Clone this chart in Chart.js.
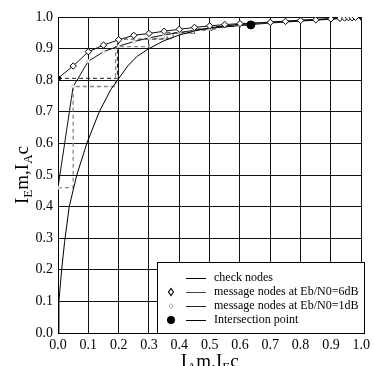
<!DOCTYPE html>
<html>
<head>
<meta charset="utf-8">
<script src="https://cdn.jsdelivr.net/npm/chart.js@4/dist/chart.umd.min.js"></script>
<style>
  html, body { margin: 0; padding: 0; background: #fff; }
  #wrap { width: 374px; height: 366px; }
</style>
</head>
<body>
<div id="wrap"><canvas id="exit"></canvas></div>
<script>

// check node curve
const checkX = [0, 0.003, 0.012, 0.022, 0.037, 0.062, 0.095, 0.136, 0.174, 0.2, 0.23, 0.26, 0.3, 0.35, 0.4, 0.45, 0.5, 0.6, 0.7, 0.8, 0.9, 1.0];
const checkY = [0, 0.1, 0.2, 0.29, 0.4, 0.5, 0.6, 0.7, 0.77, 0.805, 0.845, 0.875, 0.9, 0.925, 0.943, 0.956, 0.966, 0.977, 0.984, 0.99, 0.995, 1.0];

// message nodes, 6 dB
const msg6X = [0, 0.05, 0.1, 0.15, 0.2, 0.25, 0.3, 0.35, 0.4, 0.45, 0.5, 0.55, 0.6, 0.7, 0.75, 0.8, 0.85, 0.9, 0.93, 0.945, 0.958, 0.97, 0.981, 1.0];
const msg6Y = [0.806, 0.845, 0.89, 0.911, 0.928, 0.942, 0.948, 0.955, 0.961, 0.967, 0.972, 0.976, 0.979, 0.983, 0.986, 0.989, 0.991, 0.994, 0.996, 0.997, 0.998, 0.998, 0.999, 1.0];

// message nodes, 1 dB
const msg1X = [0, 0.05, 0.1, 0.15, 0.2, 0.25, 0.3, 0.35, 0.4, 0.45, 0.5, 0.6, 0.7, 0.8, 0.9, 1.0];
const msg1Y = [0.46, 0.78, 0.86, 0.89, 0.908, 0.922, 0.934, 0.943, 0.951, 0.958, 0.964, 0.973, 0.981, 0.987, 0.993, 1.0];

// decoding trajectories
const traj6X = [0, 0.196, 0.196, 0.36, 0.36, 0.45, 0.45, 0.52, 0.52, 0.58, 0.58, 0.636];
const traj6Y = [0.806, 0.806, 0.93, 0.93, 0.95, 0.95, 0.962, 0.962, 0.97, 0.97, 0.975, 0.975];
const traj1X = [0, 0.05, 0.05, 0.19, 0.19, 0.3, 0.3, 0.38, 0.38, 0.45, 0.45, 0.52];
const traj1Y = [0.46, 0.46, 0.78, 0.78, 0.906, 0.906, 0.932, 0.932, 0.948, 0.948, 0.958, 0.958];

const intersectX = [0.636];
const intersectY = [0.975];

const tickValues = [0, 0.1, 0.2, 0.3, 0.4, 0.5, 0.6, 0.7, 0.8, 0.9, 1.0];

const legendLabels = ['check nodes', 'message nodes at Eb/N0=6dB', 'message nodes at Eb/N0=1dB', 'Intersection point'];

const serif = "'Liberation Serif', 'Times New Roman', serif";

const toPoints = (xs, ys) => xs.map((x, i) => ({ x: x, y: ys[i] }));

// draws text with subscripts, centered on (0,0) of current transform
const drawSubText = (ctx, parts, big, small) => {
  let total = 0;
  parts.forEach(p => {
    ctx.font = (p.sub ? small : big) + 'px ' + serif;
    p.w = ctx.measureText(p.t).width;
    total += p.w;
  });
  let x = -total / 2;
  ctx.textBaseline = 'alphabetic';
  ctx.textAlign = 'left';
  parts.forEach(p => {
    ctx.font = (p.sub ? small : big) + 'px ' + serif;
    ctx.fillText(p.t, x, p.sub ? 4 : 0);
    x += p.w;
  });
};

const extras = {
  id: 'extras',
  afterDraw(chart) {
    const ctx = chart.ctx;
    const area = chart.chartArea;
    ctx.save();
    ctx.fillStyle = '#000';

    // axis titles
    ctx.save();
    ctx.translate((area.left + area.right) / 2, 367);
    drawSubText(ctx, [{ t: 'I' }, { t: 'A', sub: true }, { t: 'm,I' }, { t: 'E', sub: true }, { t: 'c' }], 19, 13);
    ctx.restore();

    ctx.save();
    ctx.translate(28, (area.top + area.bottom) / 2);
    ctx.rotate(-Math.PI / 2);
    drawSubText(ctx, [{ t: 'I' }, { t: 'E', sub: true }, { t: 'm,I' }, { t: 'A', sub: true }, { t: 'c' }], 19, 13);
    ctx.restore();

    // legend box
    const bx = 157, by = 262, bw = 207, bh = 71;
    ctx.fillStyle = '#fff';
    ctx.fillRect(bx, by, bw, bh);
    ctx.strokeStyle = '#000';
    ctx.lineWidth = 1;
    ctx.strokeRect(bx + 0.5, by + 0.5, bw, bh);

    const rows = [278, 292, 306, 320];
    const lineColors = ['#000', '#444', '#222', '#000'];
    rows.forEach((y, i) => {
      ctx.strokeStyle = lineColors[i];
      ctx.lineWidth = 1;
      ctx.beginPath();
      ctx.moveTo(186, y + 0.5);
      ctx.lineTo(206, y + 0.5);
      ctx.stroke();
      ctx.fillStyle = '#000';
      ctx.font = '12px ' + serif;
      ctx.textAlign = 'left';
      ctx.textBaseline = 'middle';
      ctx.fillText(legendLabels[i], 214, y);
    });
    const mx = 171;
    // 6 dB marker
    ctx.beginPath();
    ctx.moveTo(mx, rows[1] - 3.5);
    ctx.lineTo(mx + 2.5, rows[1]);
    ctx.lineTo(mx, rows[1] + 3.5);
    ctx.lineTo(mx - 2.5, rows[1]);
    ctx.closePath();
    ctx.fillStyle = '#fff';
    ctx.fill();
    ctx.strokeStyle = '#000';
    ctx.lineWidth = 1.2;
    ctx.stroke();
    // 1 dB marker
    ctx.beginPath();
    ctx.moveTo(mx, rows[2] - 2.5);
    ctx.lineTo(mx + 2, rows[2]);
    ctx.lineTo(mx, rows[2] + 2.5);
    ctx.lineTo(mx - 2, rows[2]);
    ctx.closePath();
    ctx.strokeStyle = '#aaa';
    ctx.lineWidth = 1;
    ctx.stroke();
    // intersection marker
    ctx.beginPath();
    ctx.arc(mx, rows[3], 4, 0, Math.PI * 2);
    ctx.fillStyle = '#000';
    ctx.fill();

    ctx.restore();
  }
};

const msg6Fill = msg6X.map((x, i) => (i === 0 || i === msg6X.length - 1) ? '#000' : '#fff');

new Chart(document.getElementById('exit'), {
  type: 'scatter',
  data: {
    datasets: [
      {
        label: 'Intersection point',
        data: toPoints(intersectX, intersectY),
        pointStyle: 'circle',
        pointRadius: 4,
        backgroundColor: '#000',
        borderColor: '#000',
        order: 0,
      },
      {
        label: 'message nodes at Eb/N0=6dB',
        data: toPoints(msg6X, msg6Y),
        showLine: true,
        borderColor: '#111',
        borderWidth: 1,
        pointStyle: 'rectRot',
        pointRadius: 3.2,
        pointBorderWidth: 1,
        pointBackgroundColor: msg6Fill,
        pointBorderColor: '#000',
        order: 1,
      },
      {
        label: 'check nodes',
        data: toPoints(checkX, checkY),
        showLine: true,
        borderColor: '#000',
        borderWidth: 1,
        pointRadius: 0,
        order: 2,
      },
      {
        label: 'message nodes at Eb/N0=1dB',
        data: toPoints(msg1X, msg1Y),
        showLine: true,
        borderColor: '#111',
        borderWidth: 1,
        pointStyle: 'rectRot',
        pointRadius: 1.8,
        pointBackgroundColor: '#fff',
        pointBorderColor: '#bbb',
        order: 3,
      },
      {
        label: 'traj6',
        data: toPoints(traj6X, traj6Y),
        showLine: true,
        borderColor: '#222',
        borderWidth: 1,
        borderDash: [4, 3],
        pointRadius: 0,
        order: 4,
      },
      {
        label: 'traj1',
        data: toPoints(traj1X, traj1Y),
        showLine: true,
        borderColor: '#888',
        borderWidth: 1.3,
        borderDash: [4, 3],
        pointRadius: 0,
        order: 5,
      },
    ],
  },
  options: {
    responsive: true,
    maintainAspectRatio: false,
    animation: false,
    layout: { padding: { top: 17, right: 9, left: 0, bottom: 0 } },
    plugins: {
      legend: { display: false },
      tooltip: { enabled: false },
    },
    scales: {
      x: {
        type: 'linear',
        min: 0,
        max: 1,
        afterBuildTicks: (scale) => { scale.ticks = tickValues.map(v => ({ value: v })); },
        afterFit: (scale) => { scale.height = 33; },
        ticks: {
          callback: (v) => v.toFixed(1),
          color: '#000',
          padding: 4,
          maxRotation: 0,
          font: { family: serif, size: 14 },
        },
        grid: { color: '#111', lineWidth: 1, drawTicks: false },
        border: { color: '#000', width: 1 },
      },
      y: {
        type: 'linear',
        min: 0,
        max: 1,
        afterBuildTicks: (scale) => { scale.ticks = tickValues.map(v => ({ value: v })); },
        afterFit: (scale) => { scale.width = 58; },
        ticks: {
          callback: (v) => v.toFixed(1),
          color: '#000',
          padding: 5,
          font: { family: serif, size: 14 },
        },
        grid: { color: '#111', lineWidth: 1, drawTicks: false },
        border: { color: '#000', width: 1 },
      },
    },
  },
  plugins: [extras],
});
</script>
</body>
</html>
